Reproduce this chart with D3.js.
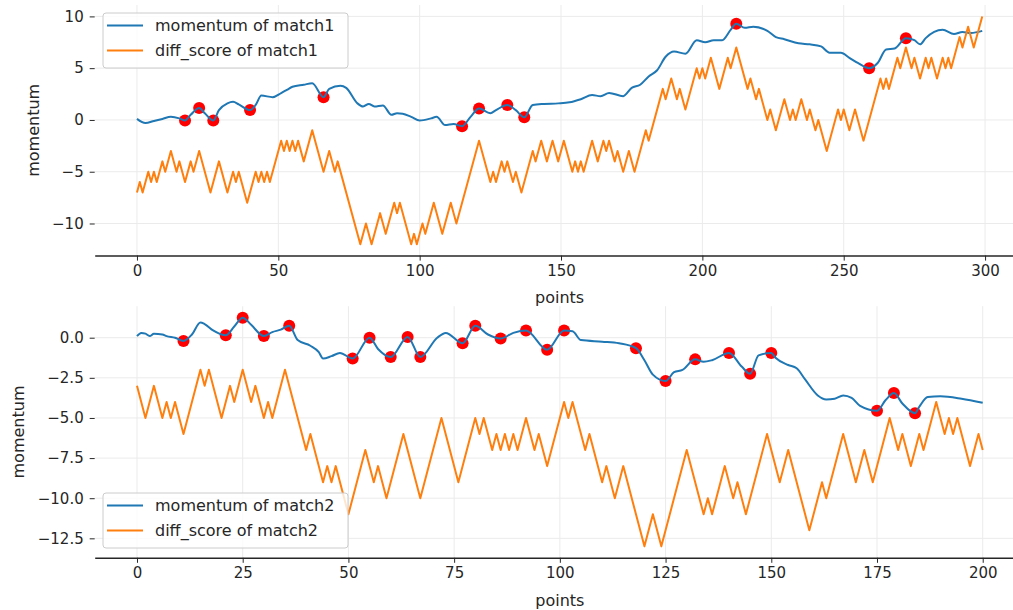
<!DOCTYPE html>
<html>
<head>
<meta charset="utf-8">
<script src="https://cdn.jsdelivr.net/npm/d3@7"></script>
<style>
  body { margin: 0; background: #fff; }
  text { font-family: "DejaVu Sans", sans-serif; }
</style>
</head>
<body>
<svg id="chart" width="1013" height="610"></svg>
<script>
// ---- match 1: momentum samples [point, value] ----
const momentum1 = [[0,0.1],[3,-0.3],[6,-0.1],[9,0.1],[12,0.3],[15,0.15],[17,-0.05],[19,0.5],[22,1.15],[24,0.65],[27,-0.05],[29,0.95],[32,1.6],[34,1.75],[36,1.5],[40,0.95],[42,1.45],[44,2.35],[48,2.2],[51,2.6],[53,2.9],[55,3.2],[59,3.4],[62,3.55],[66,2.2],[68,3.0],[72,3.3],[74,3.1],[78,1.6],[80,1.3],[82,1.55],[84,1.3],[87,1.4],[90,0.5],[92,0.65],[94,0.6],[97,0.3],[100,-0.05],[104,0.15],[106,0.3],[109,-0.5],[112,-0.4],[115,-0.6],[118,0.3],[121,1.1],[125,0.65],[127,0.95],[131,1.45],[134,0.95],[137,0.25],[140,1.45],[144,1.55],[149,1.6],[153,1.7],[157,2.0],[161,2.4],[164,2.3],[167,2.6],[172,2.3],[175,3.1],[178,3.4],[181,4.2],[184,4.8],[187,6.1],[190,6.6],[194,6.4],[198,7.7],[201,7.5],[204,7.7],[207,7.7],[210,8.7],[212,9.3],[215,8.9],[218,9.0],[223,8.6],[226,8.0],[229,7.8],[234,7.4],[238,7.3],[242,7.1],[245,6.5],[249,6.5],[252,6.0],[255,5.5],[259,5.0],[262,5.5],[265,6.8],[268,6.9],[272,7.9],[275,7.7],[277,7.3],[279,7.9],[282,8.5],[285,8.7],[289,8.3],[292,8.5],[295,8.4],[299,8.6]];
// ---- match 1: score difference at each turning point [point, value] ----
const diffScore1 = [[0,-7],[1,-6],[2,-7],[4,-5],[5,-6],[6,-5],[7,-6],[9,-4],[10,-5],[12,-3],[14,-5],[15,-4],[17,-6],[19,-4],[20,-5],[22,-3],[26,-7],[29,-4],[32,-7],[34,-5],[35,-6],[36,-5],[39,-8],[42,-5],[43,-6],[44,-5],[45,-6],[46,-5],[47,-6],[51,-2],[52,-3],[53,-2],[54,-3],[55,-2],[56,-3],[57,-2],[59,-4],[62,-1],[66,-5],[68,-3],[70,-5],[71,-4],[79,-12],[81,-10],[83,-12],[86,-9],[88,-11],[91,-8],[92,-9],[93,-8],[97,-12],[98,-11],[99,-12],[101,-10],[102,-11],[105,-8],[108,-11],[111,-8],[113,-10],[121,-2],[125,-6],[126,-5],[127,-6],[129,-4],[130,-5],[131,-4],[133,-6],[134,-5],[136,-7],[140,-3],[141,-4],[143,-2],[145,-4],[147,-2],[149,-4],[151,-2],[154,-5],[155,-4],[156,-5],[157,-4],[158,-5],[161,-2],[163,-4],[165,-2],[166,-3],[167,-2],[169,-4],[170,-3],[172,-5],[174,-3],[176,-5],[180,-1],[181,-2],[186,3],[187,2],[189,4],[191,2],[192,3],[194,1],[198,5],[199,4],[200,5],[201,4],[203,6],[206,3],[209,6],[210,5],[212,7],[216,3],[217,4],[219,2],[220,3],[223,0],[224,1],[226,-1],[229,2],[231,0],[232,1],[233,0],[235,2],[237,0],[238,1],[240,-1],[241,0],[244,-3],[248,1],[249,0],[250,1],[252,-1],[254,1],[257,-2],[263,4],[264,3],[265,4],[266,3],[269,6],[270,5],[272,7],[274,5],[275,6],[277,4],[279,6],[280,5],[281,6],[283,4],[285,6],[286,5],[287,6],[288,5],[291,8],[292,7],[294,9],[296,7],[299,10]];
// ---- match 1: marked points ----
const marks1 = [17,22,27,40,66,115,121,131,137,212,259,272];

// ---- match 2 ----
const momentum2 = [[0,0.1],[1,0.3],[2,0.25],[3,0.1],[4,0.25],[6,0.2],[7,0.1],[9,0.0],[11,-0.2],[13,0.2],[15,0.95],[16,0.85],[18,0.45],[21,0.15],[23,0.7],[25,1.25],[27,0.8],[30,0.1],[32,0.35],[34,0.5],[36,0.75],[38,-0.15],[41,-0.5],[43,-0.9],[44,-1.3],[46,-1.15],[48,-0.95],[51,-1.3],[55,0.0],[57,-0.7],[60,-1.2],[64,0.05],[67,-1.2],[71,0.0],[73,0.3],[77,-0.35],[80,0.75],[83,0.2],[86,-0.05],[89,0.3],[92,0.45],[97,-0.75],[101,0.45],[103,0.4],[105,-0.15],[110,-0.25],[114,-0.35],[118,-0.65],[120,-1.4],[122,-2.3],[125,-2.7],[127,-2.15],[129,-2.0],[132,-1.35],[134,-1.5],[136,-1.4],[140,-0.95],[143,-1.8],[145,-2.25],[147,-1.1],[150,-0.95],[151,-1.25],[154,-1.7],[156,-1.9],[158,-2.6],[161,-3.6],[163,-3.85],[165,-3.8],[167,-3.6],[169,-3.75],[171,-4.25],[175,-4.55],[177,-3.9],[179,-3.45],[181,-4.1],[184,-4.7],[185,-4.3],[187,-3.7],[190,-3.65],[195,-3.8],[200,-4.05]];
const diffScore2 = [[0,-3],[2,-5],[4,-3],[6,-5],[7,-4],[8,-5],[9,-4],[11,-6],[15,-2],[16,-3],[17,-2],[20,-5],[22,-3],[23,-4],[25,-2],[27,-4],[28,-3],[30,-5],[31,-4],[32,-5],[35,-2],[40,-7],[41,-6],[44,-9],[45,-8],[46,-9],[47,-8],[50,-11],[54,-7],[56,-9],[57,-8],[59,-10],[63,-6],[67,-10],[72,-5],[76,-9],[80,-5],[81,-6],[82,-5],[84,-7],[85,-6],[86,-7],[87,-6],[88,-7],[89,-6],[90,-7],[92,-5],[94,-7],[95,-6],[97,-8],[101,-4],[102,-5],[103,-4],[106,-7],[107,-6],[110,-9],[111,-8],[113,-10],[115,-8],[120,-13],[122,-11],[124,-13],[130,-7],[134,-11],[135,-10],[136,-11],[139,-8],[141,-10],[142,-9],[144,-11],[149,-6],[152,-9],[154,-7],[159,-12],[162,-9],[163,-10],[167,-6],[170,-9],[172,-7],[174,-9],[178,-5],[180,-7],[181,-6],[183,-8],[185,-6],[186,-7],[189,-4],[191,-6],[192,-5],[193,-6],[194,-5],[197,-8],[199,-6],[200,-7]];
const marks2 = [11,21,25,30,36,51,55,60,64,67,77,80,86,92,97,101,118,125,132,140,145,150,175,179,184];

// ---- ticks and labels ----
const xTicks1 = [0,50,100,150,200,250,300];
const yTicks1 = [-10,-5,0,5,10];
const xTicks2 = [0,25,50,75,100,125,150,175,200];
const yTicks2 = [-12.5,-10,-7.5,-5,-2.5,0];
const legend1 = ["momentum of match1", "diff_score of match1"];
const legend2 = ["momentum of match2", "diff_score of match2"];

const BLUE = "#1f77b4", ORANGE = "#ff7f0e", INK = "#262626", GRID = "#ebebeb";

const svg = d3.select("#chart");
svg.append("rect").attr("width", 1013).attr("height", 610).attr("fill", "#fff");

function padded(ext) {
  const m = (ext[1] - ext[0]) * 0.05;
  return [ext[0] - m, ext[1] + m];
}

function panel(opt) {
  const { box, momentum, diffScore, marks, xTicks, yTicks, yFmt, legend, legendY, yLabelX, xLabelY } = opt;
  const all = momentum.concat(diffScore);
  const x = d3.scaleLinear().domain(padded(d3.extent(all, d => d[0]))).range([box.l, box.r]);
  const y = d3.scaleLinear().domain(padded(d3.extent(all, d => d[1]))).range([box.b, box.t]);
  const g = svg.append("g");

  // grid
  g.append("g").selectAll("line").data(xTicks).join("line")
    .attr("x1", d => x(d)).attr("x2", d => x(d)).attr("y1", box.t).attr("y2", box.b)
    .attr("stroke", GRID).attr("stroke-width", 1);
  g.append("g").selectAll("line").data(yTicks).join("line")
    .attr("x1", box.l).attr("x2", box.r).attr("y1", d => y(d)).attr("y2", d => y(d))
    .attr("stroke", GRID).attr("stroke-width", 1);

  // axes
  const xa = g.append("g").attr("transform", `translate(0,${box.b})`)
    .call(d3.axisBottom(x).tickValues(xTicks).tickSize(5).tickSizeOuter(0).tickPadding(5).tickFormat(d3.format("d")));
  xa.select(".domain").attr("stroke", INK).attr("stroke-width", 1.5);
  xa.selectAll(".tick line").attr("stroke", INK).attr("stroke-width", 1);
  xa.selectAll(".tick text").attr("fill", INK).attr("font-size", 15).attr("font-family", "DejaVu Sans");

  const ya = g.append("g").attr("transform", `translate(${box.l},0)`)
    .call(d3.axisLeft(y).tickValues(yTicks).tickSize(5).tickPadding(6).tickFormat(d3.format(yFmt)));
  ya.select(".domain").remove();
  ya.selectAll(".tick line").attr("stroke", INK).attr("stroke-width", 1);
  ya.selectAll(".tick text").attr("fill", INK).attr("font-size", 15).attr("font-family", "DejaVu Sans");

  // axis labels
  g.append("text").attr("x", (box.l + box.r) / 2).attr("y", xLabelY)
    .attr("text-anchor", "middle").attr("font-size", 16).attr("fill", INK).text("points");
  g.append("text").attr("transform", `translate(${yLabelX},${(box.t + box.b) / 2}) rotate(-90)`)
    .attr("text-anchor", "middle").attr("dominant-baseline", "central")
    .attr("font-size", 16).attr("fill", INK).text("momentum");

  // marked points sit beneath the lines
  const lookup = new Map(momentum);
  g.append("g").selectAll("circle").data(marks).join("circle")
    .attr("cx", d => x(d)).attr("cy", d => y(lookup.get(d)))
    .attr("r", 6).attr("fill", "red");

  g.append("path").datum(momentum)
    .attr("d", d3.line().x(d => x(d[0])).y(d => y(d[1])).curve(d3.curveMonotoneX))
    .attr("fill", "none").attr("stroke", BLUE).attr("stroke-width", 2).attr("stroke-linejoin", "round");
  g.append("path").datum(diffScore)
    .attr("d", d3.line().x(d => x(d[0])).y(d => y(d[1])))
    .attr("fill", "none").attr("stroke", ORANGE).attr("stroke-width", 2).attr("stroke-linejoin", "round");

  // legend
  const lg = g.append("g").attr("transform", `translate(103,${legendY})`);
  lg.append("rect").attr("width", 245).attr("height", 55).attr("rx", 3)
    .attr("fill", "#fff").attr("fill-opacity", 0.8).attr("stroke", "#cccccc");
  [BLUE, ORANGE].forEach((c, i) => {
    const cy = 12.5 + i * 25;
    lg.append("line").attr("x1", 4).attr("x2", 40).attr("y1", cy).attr("y2", cy)
      .attr("stroke", c).attr("stroke-width", 2);
    lg.append("text").attr("x", 52).attr("y", cy).attr("dominant-baseline", "central")
      .attr("font-size", 16).attr("fill", INK).text(legend[i]);
  });
}

panel({
  box: { l: 94.7, r: 1024.5, t: 5, b: 255.6 },
  momentum: momentum1, diffScore: diffScore1, marks: marks1,
  xTicks: xTicks1, yTicks: yTicks1, yFmt: "d",
  legend: legend1, legendY: 13, yLabelX: 33, xLabelY: 303
});
panel({
  box: { l: 94.7, r: 1025, t: 306.2, b: 557.8 },
  momentum: momentum2, diffScore: diffScore2, marks: marks2,
  xTicks: xTicks2, yTicks: yTicks2, yFmt: ".1f",
  legend: legend2, legendY: 493, yLabelX: 18, xLabelY: 606
});
</script>
</body>
</html>
